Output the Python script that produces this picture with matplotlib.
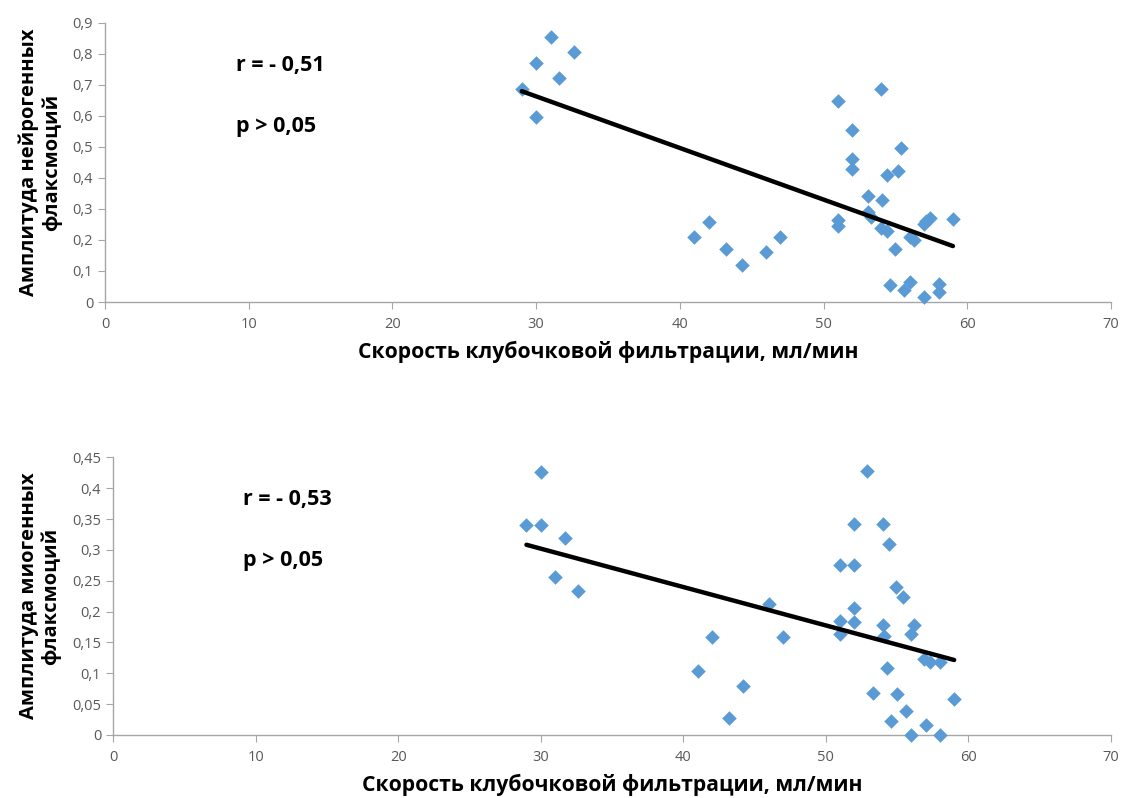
import numpy as np
import matplotlib.pyplot as plt

plt.rcParams['font.family'] = ['Open Sans', 'DejaVu Sans']

# Данные: СКФ (мл/мин) и амплитуды флаксмоций
neuro_x = [29.0, 30.0, 31.0, 32.6, 31.6, 30.0, 41.0, 42.0, 43.2, 44.3, 46.0, 47.0,
           51.0, 51.0, 51.0, 52.0, 52.0, 52.0, 53.1, 53.1, 53.3, 54.0, 54.1, 54.0,
           54.4, 54.4, 55.2, 55.4, 55.0, 54.6, 55.6, 56.0, 56.0, 56.3, 57.0, 57.0,
           57.1, 57.4, 58.0, 58.0, 59.0]
neuro_y = [0.685, 0.770, 0.855, 0.807, 0.722, 0.597, 0.211, 0.258, 0.172, 0.119, 0.160, 0.211,
           0.647, 0.265, 0.245, 0.555, 0.462, 0.429, 0.343, 0.290, 0.273, 0.685, 0.329, 0.239,
           0.230, 0.410, 0.421, 0.497, 0.172, 0.056, 0.039, 0.065, 0.208, 0.200, 0.017, 0.251,
           0.260, 0.271, 0.057, 0.031, 0.269]

myo_x = [30.0, 29.0, 30.0, 31.7, 31.0, 32.6, 41.0, 42.0, 43.2, 44.2, 46.0, 47.0,
         52.9, 52.0, 54.0, 54.4, 51.0, 52.0, 54.9, 55.4, 52.0, 51.0, 52.0, 51.0,
         54.0, 54.1, 56.2, 56.0, 56.9, 57.3, 58.0, 54.3, 53.3, 55.0, 55.6, 54.6,
         57.0, 56.0, 58.0, 59.0]
myo_y = [0.426, 0.341, 0.341, 0.320, 0.256, 0.234, 0.104, 0.158, 0.027, 0.079, 0.212, 0.158,
         0.428, 0.342, 0.342, 0.310, 0.276, 0.276, 0.240, 0.224, 0.206, 0.184, 0.183, 0.164,
         0.179, 0.160, 0.179, 0.164, 0.123, 0.119, 0.119, 0.109, 0.068, 0.066, 0.039, 0.023,
         0.016, 0.000, 0.000, 0.059]

x_ticks = [0, 10, 20, 30, 40, 50, 60, 70]
neuro_ticks = [0, 0.1, 0.2, 0.3, 0.4, 0.5, 0.6, 0.7, 0.8, 0.9]
neuro_tick_labels = ['0', '0,1', '0,2', '0,3', '0,4', '0,5', '0,6', '0,7', '0,8', '0,9']
myo_ticks = [0, 0.05, 0.1, 0.15, 0.2, 0.25, 0.3, 0.35, 0.4, 0.45]
myo_tick_labels = ['0', '0,05', '0,1', '0,15', '0,2', '0,25', '0,3', '0,35', '0,4', '0,45']

xlabel = 'Скорость клубочковой фильтрации, мл/мин'
panels = [
    dict(x=neuro_x, y=neuro_y, ticks=neuro_ticks, labels=neuro_tick_labels,
         ylabel='Амплитуда нейрогенных\nфлаксмоций', r='r = - 0,51',
         rect=[105 / 1121, 1 - 302 / 798, 1006 / 1121, 279.3 / 798]),
    dict(x=myo_x, y=myo_y, ticks=myo_ticks, labels=myo_tick_labels,
         ylabel='Амплитуда миогенных\nфлаксмоций', r='r = - 0,53',
         rect=[113 / 1121, 1 - 735 / 798, 998 / 1121, 277.7 / 798]),
]

fig = plt.figure(figsize=(11.21, 7.98), dpi=100)
axis_color = '#a6a6a6'

for p in panels:
    ax = fig.add_axes(p['rect'])
    ax.scatter(p['x'], p['y'], marker='D', s=55, color='#5b9bd5', linewidths=0,
               clip_on=False, zorder=3)

    # линейный тренд
    k, b = np.polyfit(p['x'], p['y'], 1)
    xs = np.array([min(p['x']), max(p['x'])])
    ax.plot(xs, k * xs + b, color='black', lw=3.2, solid_capstyle='round', zorder=4)

    ax.set_xlim(0, 70)
    ax.set_ylim(0, p['ticks'][-1])
    ax.set_xticks(x_ticks)
    ax.set_yticks(p['ticks'])
    ax.set_yticklabels(p['labels'])
    for s in ['top', 'right']:
        ax.spines[s].set_visible(False)
    for s in ['left', 'bottom']:
        ax.spines[s].set_color(axis_color)
        ax.spines[s].set_linewidth(1.0)
    ax.tick_params(colors=axis_color, labelcolor='#595959', labelsize=10.5, length=5,
                   direction='out')
    ax.tick_params(axis='x', pad=6)

    ax.set_ylabel(p['ylabel'], fontsize=14.5, fontweight='bold', linespacing=1.15,
                  va='center')
    ax.yaxis.set_label_coords(-(p['rect'][0] * 1121 - 40) / (p['rect'][2] * 1121), 0.5)
    ax.set_xlabel(xlabel, fontsize=15.2, fontweight='bold', va='center')
    ax.xaxis.set_label_coords(0.5, -50 / 279)

    ax.text(0.13, 0.848, p['r'], transform=ax.transAxes, fontsize=15.5, fontweight='bold',
            va='center', ha='left')
    ax.text(0.13, 0.627, 'p > 0,05', transform=ax.transAxes, fontsize=15.5, fontweight='bold',
            va='center', ha='left')

plt.savefig('out.png', dpi=100)
